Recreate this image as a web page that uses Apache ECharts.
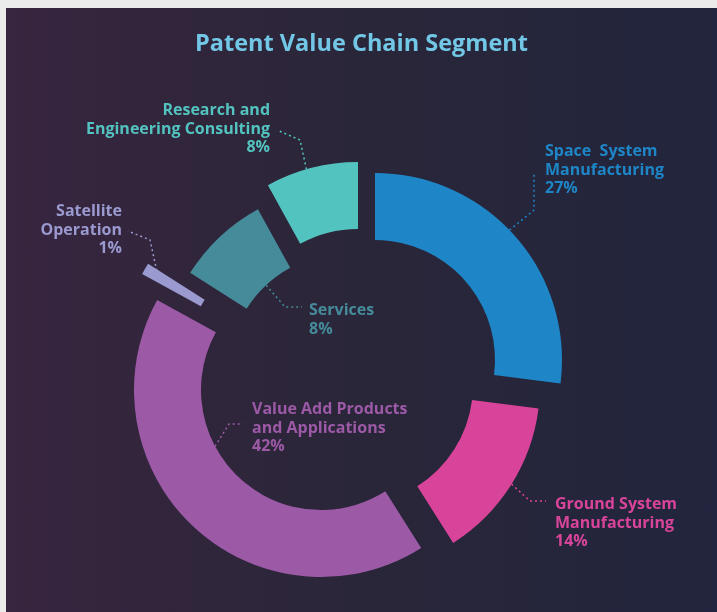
<!DOCTYPE html>
<html>
<head>
<meta charset="utf-8">
<script src="https://cdn.jsdelivr.net/npm/echarts@6/dist/echarts.min.js"></script>
<style>
  html, body { margin: 0; padding: 0; background: #ebebeb; }
  #chart {
    position: absolute; left: 6px; top: 8px; width: 711px; height: 604px;
    background: linear-gradient(to right, #38253f 0%, #2b2639 45%, #21253d 100%);
  }
</style>
</head>
<body>
<div id="chart"></div>
<script>
const segments = [
  'Space  System\nManufacturing',
  'Ground System\nManufacturing',
  'Value Add Products\nand Applications',
  'Satellite\nOperation',
  'Services',
  'Research and\nEngineering Consulting'
];
const shares = [27, 14, 42, 1, 8, 8];
const colors = ['#1e86c6', '#d8449a', '#9b59a6', '#9a9ad0', '#458b9a', '#53c3bf'];

// every slice is pulled out by its own amount, so each one gets its own pie centre
const sliceCenters = [[369, 352], [347, 377], [315, 382], [300, 356], [342, 365], [352, 341]];
const innerR = 120, outerR = 187;

// where the label sits and how its dotted leader runs
// from: [angle from 12 o'clock, radius] on the slice, elbow/end in px
const labelSpots = [
  { x: 539, y: 162, align: 'left',  from: [46, outerR], elbow: [528, 202], end: [528, 164] },
  { x: 549, y: 515, align: 'left',  from: [122, outerR], elbow: [524, 493], end: [540, 493] },
  { x: 246, y: 420, align: 'left',  from: [242, innerR], elbow: [223, 416], end: [237, 416] },
  { x: 116, y: 222, align: 'right', from: [302, 176], elbow: [144, 232], end: [122, 223] },
  { x: 303, y: 312, align: 'left',  from: [317, innerR], elbow: [279, 299], end: [296, 299] },
  { x: 264, y: 121, align: 'right', from: [344, outerR], elbow: [294, 132], end: [271, 122] }
];

const font = 'Open Sans';

const chart = echarts.init(document.getElementById('chart'));

const series = segments.map((_, k) => ({
  type: 'pie',
  center: sliceCenters[k],
  radius: [innerR, outerR],
  startAngle: 90,
  clockwise: true,
  silent: true,
  avoidLabelOverlap: false,
  itemStyle: { borderWidth: 0 },
  emphasis: { disabled: true },
  label: {
    color: colors[k],
    fontFamily: font,
    fontWeight: 'bold',
    fontSize: 16,
    lineHeight: 18.5,
    formatter: '{b}\n{c}%'
  },
  labelLine: {
    show: true,
    lineStyle: { color: colors[k], width: 1.5, type: [2, 3] }
  },
  labelLayout: function (p) {
    if (p.dataIndex !== k) return {};
    const s = labelSpots[k];
    const a = s.from[0] * Math.PI / 180;
    const c = sliceCenters[k];
    const start = [c[0] + s.from[1] * Math.sin(a), c[1] - s.from[1] * Math.cos(a)];
    return {
      x: s.x,
      y: s.y,
      align: s.align,
      verticalAlign: 'middle',
      labelLinePoints: [start, s.elbow, s.end]
    };
  },
  data: segments.map((name, i) => ({
    name: name,
    value: shares[i],
    itemStyle: { color: i === k ? colors[i] : 'transparent' },
    label: { show: i === k },
    labelLine: { show: i === k }
  }))
}));

chart.setOption({
  backgroundColor: 'transparent',
  title: {
    text: 'Patent Value Chain Segment',
    left: 'center',
    top: 19,
    textStyle: { color: '#72c7e6', fontFamily: font, fontWeight: 'bold', fontSize: 23.5 }
  },
  series: series
});
</script>
</body>
</html>
